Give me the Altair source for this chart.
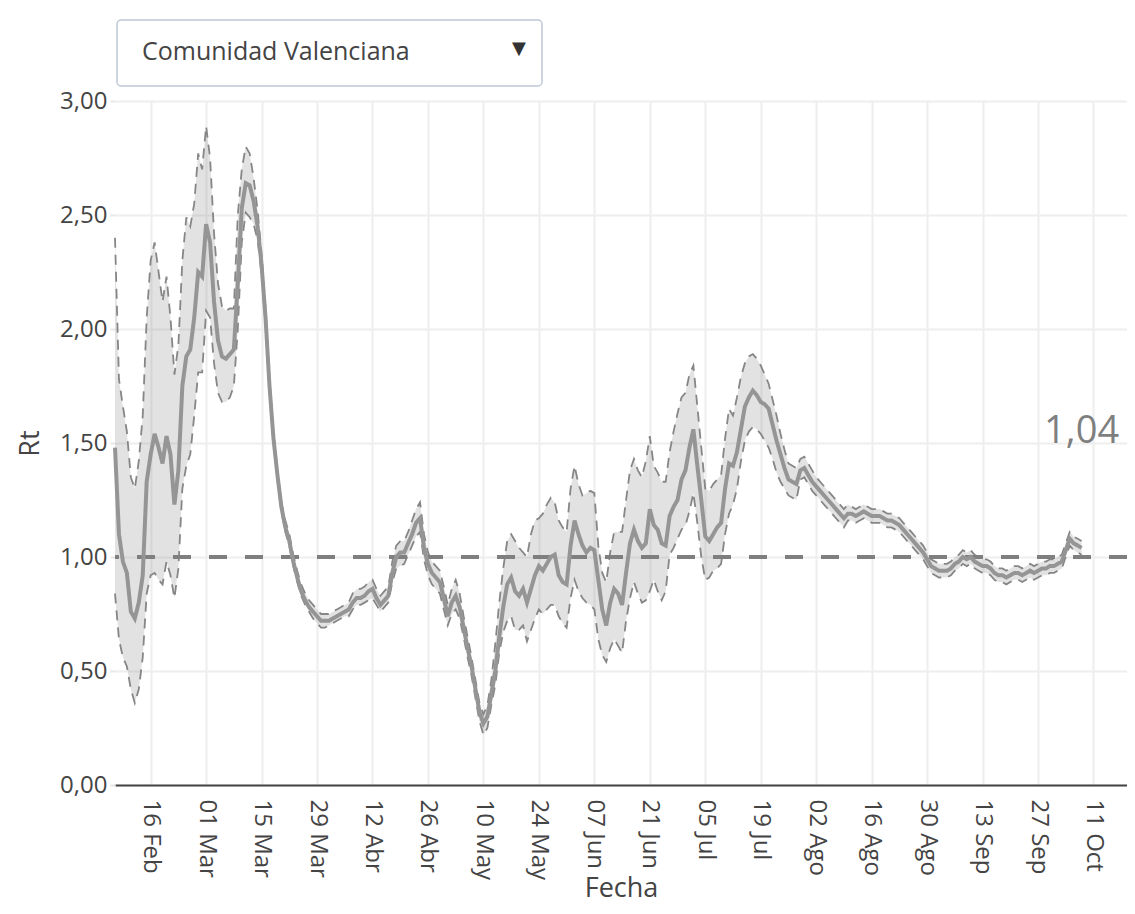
import json
import altair as alt
import pandas as pd

REGION = "Comunidad Valenciana"
START = "2020-02-07"          # first daily estimate
X_END = "2020-10-19T11:00:00"  # right edge of the plotting range
THRESHOLD = 1.0

RT = [
    1.48, 1.10, 0.98, 0.93, 0.76, 0.73, 0.80, 0.92, 1.33, 1.45,
    1.54, 1.48, 1.41, 1.53, 1.45, 1.23, 1.38, 1.75, 1.88, 1.91,
    2.05, 2.25, 2.23, 2.46, 2.38, 2.12, 1.95, 1.88, 1.87, 1.89,
    1.91, 2.20, 2.53, 2.64, 2.63, 2.56, 2.45, 2.28, 2.05, 1.75,
    1.52, 1.36, 1.22, 1.13, 1.07, 0.98, 0.91, 0.85, 0.81, 0.78,
    0.76, 0.74, 0.72, 0.72, 0.72, 0.73, 0.74, 0.75, 0.76, 0.77,
    0.80, 0.82, 0.82, 0.83, 0.85, 0.86, 0.82, 0.79, 0.81, 0.83,
    0.93, 1.00, 1.02, 1.02, 1.06, 1.10, 1.15, 1.17, 1.04, 0.97,
    0.93, 0.91, 0.89, 0.82, 0.74, 0.80, 0.83, 0.78, 0.69, 0.60,
    0.52, 0.42, 0.32, 0.27, 0.30, 0.40, 0.50, 0.65, 0.78, 0.88,
    0.91, 0.85, 0.83, 0.86, 0.80, 0.86, 0.92, 0.96, 0.94, 0.97,
    1.00, 1.01, 0.92, 0.89, 0.88, 1.05, 1.16, 1.10, 1.05, 1.02,
    1.04, 1.03, 0.90, 0.77, 0.70, 0.80, 0.86, 0.84, 0.79, 0.93,
    1.06, 1.12, 1.07, 1.04, 1.06, 1.21, 1.14, 1.12, 1.06, 1.05,
    1.18, 1.22, 1.25, 1.34, 1.38, 1.48, 1.56, 1.40, 1.25, 1.09,
    1.07, 1.10, 1.13, 1.15, 1.30, 1.41, 1.40, 1.46, 1.56, 1.66,
    1.70, 1.73, 1.71, 1.68, 1.67, 1.65, 1.58, 1.51, 1.45, 1.39,
    1.34, 1.33, 1.32, 1.38, 1.39, 1.36, 1.33, 1.31, 1.29, 1.27,
    1.25, 1.23, 1.21, 1.19, 1.17, 1.19, 1.19, 1.18, 1.19, 1.20,
    1.19, 1.18, 1.18, 1.18, 1.17, 1.16, 1.16, 1.15, 1.14, 1.12,
    1.10, 1.08, 1.06, 1.04, 1.02, 0.99, 0.96, 0.95, 0.94, 0.94,
    0.94, 0.95, 0.97, 0.98, 1.00, 0.99, 1.00, 0.98, 0.97, 0.96,
    0.96, 0.95, 0.93, 0.92, 0.92, 0.91, 0.92, 0.93, 0.93, 0.92,
    0.93, 0.94, 0.93, 0.94, 0.95, 0.95, 0.96, 0.96, 0.97, 0.98,
    1.03, 1.08, 1.06, 1.05, 1.04,
]

LOW = [
    0.84, 0.64, 0.56, 0.52, 0.42, 0.36, 0.42, 0.56, 0.84, 0.92,
    0.93, 0.90, 0.88, 0.98, 0.92, 0.82, 0.95, 1.30, 1.40, 1.45,
    1.62, 1.81, 1.81, 2.08, 2.05, 1.85, 1.72, 1.68, 1.68, 1.70,
    1.75, 2.00, 2.38, 2.51, 2.49, 2.46, 2.39, 2.24, 2.02, 1.72,
    1.50, 1.34, 1.20, 1.11, 1.05, 0.96, 0.89, 0.83, 0.79, 0.76,
    0.73, 0.71, 0.69, 0.69, 0.70, 0.71, 0.72, 0.73, 0.74, 0.74,
    0.77, 0.79, 0.79, 0.80, 0.81, 0.82, 0.79, 0.76, 0.78, 0.80,
    0.89, 0.95, 0.96, 0.97, 1.01, 1.05, 1.09, 1.11, 0.99, 0.92,
    0.88, 0.86, 0.84, 0.77, 0.70, 0.75, 0.77, 0.73, 0.65, 0.56,
    0.48, 0.38, 0.28, 0.22, 0.25, 0.35, 0.44, 0.58, 0.67, 0.72,
    0.74, 0.68, 0.68, 0.70, 0.63, 0.68, 0.73, 0.77, 0.75, 0.77,
    0.79, 0.79, 0.74, 0.71, 0.69, 0.82, 0.90, 0.85, 0.82, 0.80,
    0.79, 0.77, 0.64, 0.57, 0.54, 0.60, 0.64, 0.61, 0.58, 0.72,
    0.82, 0.89, 0.84, 0.80, 0.81, 0.85, 0.90, 0.85, 0.81, 0.85,
    1.01, 1.04, 1.08, 1.12, 1.14, 1.20, 1.28, 1.15, 1.00, 0.90,
    0.91, 0.94, 0.95, 0.97, 1.10, 1.19, 1.23, 1.30, 1.42, 1.51,
    1.55, 1.57, 1.56, 1.54, 1.51, 1.48, 1.43, 1.37, 1.33, 1.30,
    1.27, 1.26, 1.25, 1.34, 1.35, 1.32, 1.29, 1.27, 1.25, 1.23,
    1.21, 1.19, 1.17, 1.15, 1.13, 1.16, 1.16, 1.15, 1.16, 1.17,
    1.16, 1.15, 1.15, 1.15, 1.14, 1.13, 1.13, 1.12, 1.11, 1.09,
    1.07, 1.05, 1.03, 1.01, 0.99, 0.96, 0.93, 0.92, 0.91, 0.91,
    0.91, 0.92, 0.94, 0.95, 0.97, 0.96, 0.97, 0.95, 0.94, 0.93,
    0.93, 0.92, 0.90, 0.89, 0.89, 0.88, 0.89, 0.90, 0.90, 0.89,
    0.90, 0.91, 0.90, 0.91, 0.92, 0.92, 0.93, 0.93, 0.94, 0.95,
    1.00, 1.05, 1.03, 1.02, 1.01,
]

HIGH = [
    2.40, 1.78, 1.66, 1.55, 1.35, 1.30, 1.42, 1.62, 2.05, 2.30,
    2.38, 2.25, 2.12, 2.23, 2.05, 1.80, 1.93, 2.30, 2.49, 2.45,
    2.55, 2.77, 2.70, 2.89, 2.75, 2.42, 2.20, 2.10, 2.08, 2.09,
    2.09, 2.50, 2.70, 2.80, 2.77, 2.66, 2.52, 2.33, 2.09, 1.78,
    1.55, 1.38, 1.24, 1.16, 1.10, 1.01, 0.94, 0.88, 0.84, 0.81,
    0.79, 0.77, 0.75, 0.75, 0.75, 0.76, 0.77, 0.78, 0.79, 0.80,
    0.84, 0.86, 0.86, 0.87, 0.89, 0.90, 0.86, 0.83, 0.85, 0.87,
    0.98, 1.05, 1.07, 1.07, 1.11, 1.16, 1.21, 1.24, 1.10, 1.02,
    0.98, 0.96, 0.94, 0.87, 0.79, 0.86, 0.90, 0.84, 0.74, 0.65,
    0.56, 0.46, 0.36, 0.31, 0.35, 0.46, 0.62, 0.80, 0.95, 1.07,
    1.10, 1.07, 1.04, 1.02, 1.00, 1.10, 1.16, 1.17, 1.19, 1.23,
    1.26, 1.24, 1.16, 1.13, 1.11, 1.30, 1.40, 1.32, 1.27, 1.28,
    1.29, 1.28, 1.05, 0.93, 0.89, 1.02, 1.11, 1.11, 1.11, 1.25,
    1.38, 1.43, 1.38, 1.35, 1.42, 1.53, 1.40, 1.37, 1.33, 1.33,
    1.46, 1.55, 1.63, 1.70, 1.72, 1.80, 1.84, 1.66, 1.48, 1.30,
    1.29, 1.32, 1.34, 1.36, 1.52, 1.65, 1.62, 1.70, 1.79, 1.85,
    1.88, 1.89, 1.87, 1.84, 1.80, 1.76, 1.69, 1.62, 1.54, 1.47,
    1.41, 1.40, 1.39, 1.43, 1.44, 1.41, 1.38, 1.35, 1.33, 1.31,
    1.29, 1.27, 1.25, 1.23, 1.21, 1.23, 1.22, 1.21, 1.22, 1.23,
    1.22, 1.21, 1.21, 1.21, 1.20, 1.19, 1.19, 1.18, 1.17, 1.15,
    1.13, 1.11, 1.09, 1.07, 1.05, 1.02, 0.99, 0.98, 0.97, 0.97,
    0.97, 0.98, 1.00, 1.01, 1.03, 1.02, 1.03, 1.01, 1.00, 0.99,
    0.99, 0.98, 0.96, 0.95, 0.95, 0.94, 0.95, 0.96, 0.96, 0.95,
    0.96, 0.97, 0.96, 0.97, 0.98, 0.98, 0.99, 0.99, 1.00, 1.01,
    1.06, 1.11, 1.09, 1.08, 1.07,
]

TICK_DATES = [
    "2020-02-16", "2020-03-01", "2020-03-15", "2020-03-29", "2020-04-12",
    "2020-04-26", "2020-05-10", "2020-05-24", "2020-06-07", "2020-06-21",
    "2020-07-05", "2020-07-19", "2020-08-02", "2020-08-16", "2020-08-30",
    "2020-09-13", "2020-09-27", "2020-10-11",
]
MONTHS_ES = ["Ene", "Feb", "Mar", "Abr", "May", "Jun",
             "Jul", "Ago", "Sep", "Oct", "Nov", "Dic"]
Y_TICKS = [0.0, 0.5, 1.0, 1.5, 2.0, 2.5, 3.0]
Y_RANGE = [0.0, 3.0]

FONT = "Open Sans"
TXT = "#444444"


def to_ms(s):
    return int(pd.Timestamp(s).value // 10**6)


dates = pd.date_range(START, periods=len(RT), freq="D")
df = pd.DataFrame({
    "fecha": [to_ms(d) for d in dates],
    "rt": RT,
    "low": LOW,
    "high": HIGH,
})
last = df.tail(1).copy()
last["label"] = [f"{RT[-1]:.2f}".replace(".", ",")]

month_arr = json.dumps(MONTHS_ES)
x_axis = alt.Axis(
    values=[to_ms(d) for d in TICK_DATES],
    labelExpr=f"utcFormat(datum.value, '%d') + ' ' + {month_arr}[utcmonth(datum.value)]",
    labelAngle=90, labelFont=FONT, labelFontSize=24, labelColor=TXT,
    labelPadding=14, ticks=False,
    grid=True, gridColor="#eeeeee", gridWidth=2,
    domain=True, domainColor=TXT, domainWidth=2,
    title="Fecha", titleFont=FONT, titleFontSize=27, titleFontWeight="normal",
    titleColor=TXT, titleBaseline="alphabetic", titleY=111,
)
y_axis = alt.Axis(
    values=Y_TICKS,
    labelExpr="replace(format(datum.value, '.2f'), '.', ',')",
    labelFont=FONT, labelFontSize=24, labelColor=TXT, labelPadding=3,
    tickSize=5, tickColor="#e6e6e6", tickWidth=2,
    grid=True, gridColor="#eeeeee", gridWidth=2, domain=False,
    title="Rt", titleFont=FONT, titleFontSize=27, titleFontWeight="normal",
    titleColor=TXT, titleBaseline="middle", titleX=-85,
)

x_scale = alt.Scale(type="utc", domain=[to_ms(START), to_ms(X_END)], nice=False)
y_scale = alt.Scale(domain=Y_RANGE, nice=False, zero=False)

X = alt.X("fecha:T", scale=x_scale, axis=x_axis)

band = alt.Chart(df).mark_area(color="#808080", opacity=0.23).encode(
    x=X,
    y=alt.Y("low:Q", scale=y_scale, axis=y_axis),
    y2="high:Q",
)
upper = alt.Chart(df).mark_line(color="#868686", strokeWidth=1.8, strokeDash=[10, 7]).encode(
    x=X, y=alt.Y("high:Q", scale=y_scale, axis=y_axis)
)
lower = alt.Chart(df).mark_line(color="#868686", strokeWidth=1.8, strokeDash=[10, 7]).encode(
    x=X, y=alt.Y("low:Q", scale=y_scale, axis=y_axis)
)
mean = alt.Chart(df).mark_line(color="#959595", strokeWidth=4).encode(
    x=X, y=alt.Y("rt:Q", scale=y_scale, axis=y_axis)
)
threshold = alt.Chart(pd.DataFrame({"v": [THRESHOLD]})).mark_rule(
    color="#7f7f7f", strokeWidth=4, strokeDash=[18, 18]
).encode(y=alt.Y("v:Q", scale=y_scale, axis=y_axis))

annot = alt.Chart(last).mark_text(
    font=FONT, fontSize=38, color="#7f7f7f", align="center",
    baseline="alphabetic", dy=-105,
).encode(x=X, y=alt.Y("rt:Q", scale=y_scale, axis=y_axis), text="label:N")

# dropdown-style selector above the plot
menu_df = pd.DataFrame({"label": [REGION], "arrow": ["\u25bc"]})
menu_box = alt.Chart(menu_df).mark_rect(
    fill="white", stroke="#bec8d9", strokeWidth=1.5, cornerRadius=4
).encode(x=alt.value(2), x2=alt.value(427), y=alt.value(-81), y2=alt.value(-15))
menu_text = alt.Chart(menu_df).mark_text(
    font=FONT, fontSize=25, color=TXT, align="left", baseline="alphabetic"
).encode(x=alt.value(27), y=alt.value(-41), text="label:N")
menu_arrow = alt.Chart(menu_df).mark_text(
    font="DejaVu Sans", fontSize=18, color="#333333", align="center", baseline="middle"
).encode(x=alt.value(404), y=alt.value(-52), text="arrow:N")

chart = alt.layer(
    band, upper, lower, threshold, mean, annot, menu_box, menu_text, menu_arrow
).properties(
    width=1012, height=684,
    padding={"left": 107, "top": 93, "right": 0, "bottom": 121},
    autosize=alt.AutoSizeParams(type="none"),
    background="white",
).configure_view(stroke=None)

chart.save("out.html", embed_options={"renderer": "svg", "actions": False})
